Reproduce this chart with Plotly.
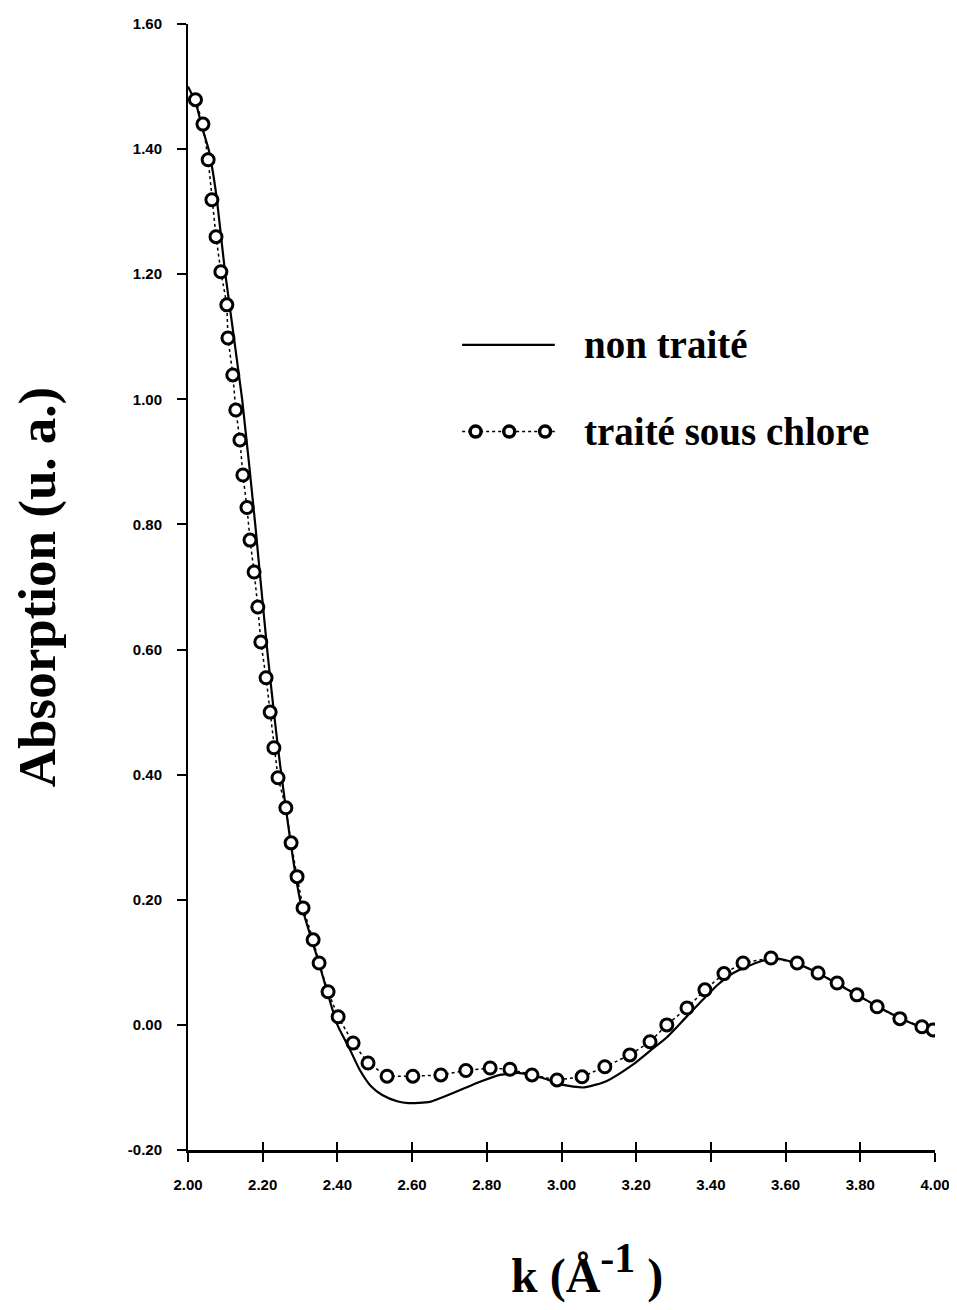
import plotly.graph_objects as go

# courbe "non traité" (trait plein)
k_non = [2.00, 2.02, 2.04, 2.055, 2.075, 2.10, 2.145, 2.18, 2.212, 2.25, 2.30, 2.35, 2.40,
         2.43, 2.46, 2.49, 2.52, 2.56, 2.59, 2.648, 2.71, 2.782, 2.835, 2.889, 2.95, 3.004,
         3.06, 3.12, 3.19, 3.24, 3.28, 3.33, 3.37, 3.42, 3.46, 3.53, 3.575, 3.62, 3.68,
         3.74, 3.80, 3.86, 3.92, 3.96, 4.00]
abs_non = [1.50, 1.475, 1.43, 1.40, 1.33, 1.20, 1.00, 0.80, 0.60, 0.40, 0.20, 0.10, 0.00,
           -0.035, -0.072, -0.098, -0.112, -0.122, -0.125, -0.123, -0.109, -0.091, -0.080, -0.077, -0.085, -0.096,
           -0.100, -0.090, -0.064, -0.040, -0.021, 0.010, 0.035, 0.065, 0.083, 0.101, 0.106, 0.100, 0.085,
           0.065, 0.045, 0.025, 0.007, -0.003, -0.012]

# courbe "traité sous chlore" (points)
k_cl = [2.02, 2.04, 2.054, 2.064, 2.075, 2.088, 2.104, 2.107, 2.12, 2.128, 2.139, 2.147, 2.158,
        2.166, 2.177, 2.187, 2.195, 2.209, 2.22, 2.23, 2.241, 2.262, 2.276, 2.292, 2.308, 2.335,
        2.351, 2.375, 2.402, 2.442, 2.482, 2.533, 2.602, 2.677, 2.744, 2.809, 2.862, 2.921, 2.988,
        3.055, 3.116, 3.183, 3.237, 3.282, 3.336, 3.384, 3.435, 3.486, 3.561, 3.631, 3.687, 3.738,
        3.791, 3.845, 3.906, 3.965, 3.995]
abs_cl = [1.479, 1.44, 1.383, 1.319, 1.26, 1.204, 1.151, 1.098, 1.039, 0.983, 0.935, 0.879, 0.827,
          0.775, 0.724, 0.668, 0.612, 0.555, 0.500, 0.443, 0.395, 0.347, 0.291, 0.237, 0.187, 0.136,
          0.099, 0.053, 0.013, -0.029, -0.061, -0.082, -0.082, -0.080, -0.073, -0.069, -0.071, -0.080, -0.088,
          -0.083, -0.067, -0.048, -0.027, 0.000, 0.027, 0.056, 0.082, 0.099, 0.107, 0.099, 0.083, 0.067,
          0.048, 0.029, 0.010, -0.003, -0.008]

x_ticks = [2.0, 2.2, 2.4, 2.6, 2.8, 3.0, 3.2, 3.4, 3.6, 3.8, 4.0]
y_ticks = [-0.2, 0.0, 0.2, 0.4, 0.6, 0.8, 1.0, 1.2, 1.4, 1.6]

serif = "Liberation Serif"
sans = "Liberation Sans"

fig = go.Figure()
fig.add_trace(go.Scatter(x=k_non, y=abs_non, mode="lines",
                         line=dict(color="black", width=2.2, shape="spline", smoothing=0.6),
                         showlegend=False))
fig.add_trace(go.Scatter(x=k_cl, y=abs_cl, mode="lines+markers",
                         line=dict(color="black", width=1.5, dash="dot"),
                         marker=dict(symbol="circle", size=12, color="white", line=dict(color="black", width=3)),
                         showlegend=False))

# legende faite a la main (meme rendu que l'original)
fig.add_trace(go.Scatter(x=[0.367, 0.491], y=[0.715, 0.715], xaxis="x3", yaxis="y3", mode="lines",
                         line=dict(color="black", width=2.2), showlegend=False, hoverinfo="skip"))
fig.add_trace(go.Scatter(x=[0.367, 0.491], y=[0.638, 0.638], xaxis="x3", yaxis="y3", mode="lines",
                         line=dict(color="black", width=1.5, dash="dot"), showlegend=False, hoverinfo="skip"))
fig.add_trace(go.Scatter(x=[0.385, 0.43, 0.478], y=[0.638, 0.638, 0.638], xaxis="x3", yaxis="y3",
                         mode="markers",
                         marker=dict(symbol="circle", size=11, color="white", line=dict(color="black", width=3.5)),
                         showlegend=False, hoverinfo="skip"))
fig.add_annotation(text="<b>non traité</b>", x=0.527, y=0.715, xref="paper", yref="paper",
                   xanchor="left", yanchor="middle", showarrow=False, font=dict(family=serif, size=39, color="black"))
fig.add_annotation(text="<b>traité sous chlore</b>", x=0.527, y=0.638, xref="paper", yref="paper",
                   xanchor="left", yanchor="middle", showarrow=False, font=dict(family=serif, size=39, color="black"))

# titre de l'axe x
fig.add_annotation(text="<b>k (Å<sup><span style='font-size:42px'>-1</span></sup> )</b>",
                   x=0.534, y=-0.106, xref="paper", yref="paper", xanchor="center", yanchor="middle",
                   showarrow=False, font=dict(family=serif, size=48, color="black"))

fig.update_layout(
    width=949, height=1302,
    margin=dict(l=180, r=22, t=16, b=160),
    plot_bgcolor="white", paper_bgcolor="white",
    showlegend=False,
    xaxis=dict(range=[2.0, 4.0], tickvals=x_ticks, ticktext=["%.2f" % v for v in x_ticks],
               showgrid=False, zeroline=False, showline=True, linecolor="black", linewidth=3,
               ticks="outside", ticklen=9, tickwidth=2, tickcolor="black", ticklabelstandoff=10,
               automargin=False,
               tickfont=dict(family=sans, size=15, color="black", weight="bold")),
    yaxis=dict(range=[-0.2, 1.6], tickvals=y_ticks, ticktext=["%.2f" % v for v in y_ticks],
               showgrid=False, zeroline=False, showline=True, linecolor="black", linewidth=2,
               ticks="outside", ticklen=9, tickwidth=2, tickcolor="black", ticklabelstandoff=12,
               automargin=False,
               tickfont=dict(family=sans, size=15, color="black", weight="bold"),
               title=dict(text="<b>Absorption (u. a.)</b>", font=dict(family=serif, size=53, color="black"),
                          standoff=70)),
    # ticks vers l'interieur pour l'effet "croix"
    xaxis2=dict(range=[2.0, 4.0], overlaying="x", tickvals=x_ticks, showticklabels=False, ticks="inside",
                ticklen=8, tickwidth=2, tickcolor="black", showgrid=False, zeroline=False),
    yaxis2=dict(range=[-0.2, 1.6], overlaying="y", tickvals=[1.6], showticklabels=False, ticks="inside",
                ticklen=8, tickwidth=2, tickcolor="black", showgrid=False, zeroline=False),
    xaxis3=dict(range=[0, 1], overlaying="x", visible=False),
    yaxis3=dict(range=[0, 1], overlaying="y", visible=False),
)
# traces fantomes pour afficher les axes 2
fig.add_trace(go.Scatter(x=[2.0], y=[-0.2], xaxis="x2", yaxis="y2", mode="markers",
                         marker=dict(opacity=0), showlegend=False, hoverinfo="skip"))

fig.write_html("out.html")
